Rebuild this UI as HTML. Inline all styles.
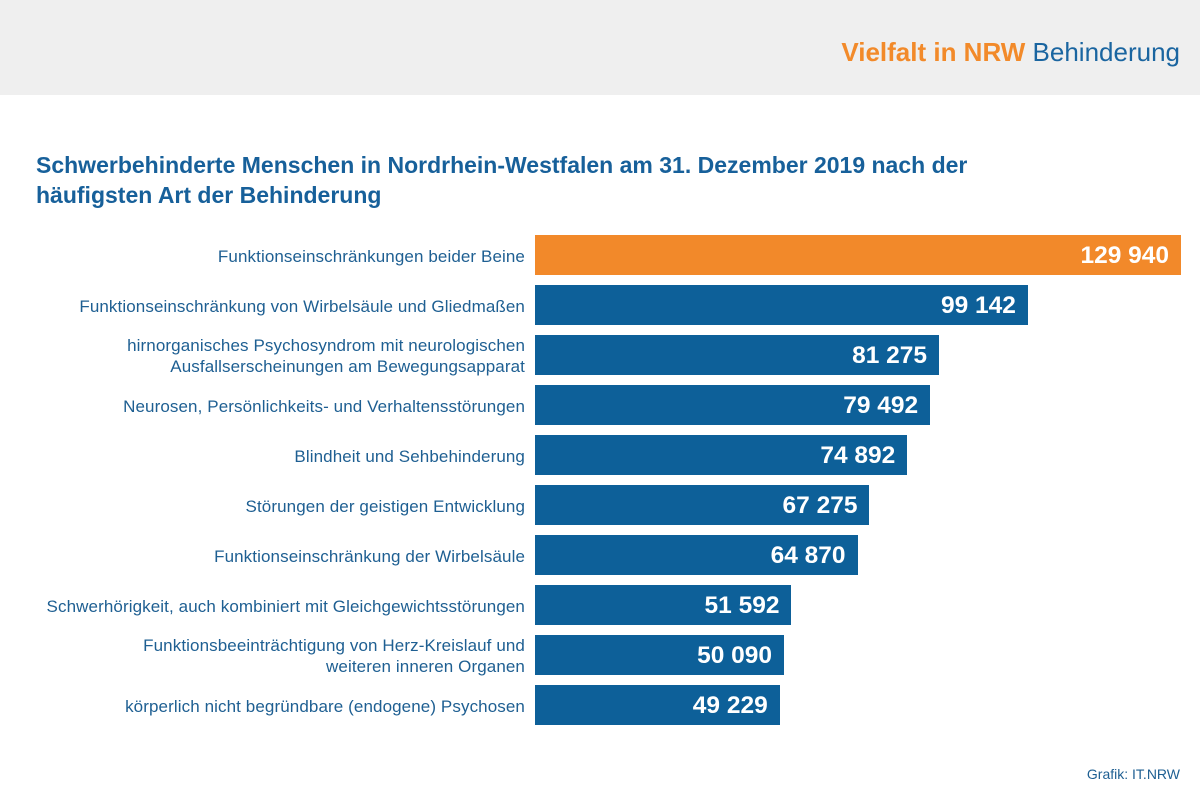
<!DOCTYPE html>
<html><head><meta charset="utf-8"><style>
body{margin:0;width:1200px;height:800px;background:#fff;font-family:"Liberation Sans",sans-serif;position:relative;overflow:hidden}
#hdr{position:absolute;left:0;top:0;width:1200px;height:95px;background:#efefef}
#brand{position:absolute;right:20px;top:37px;font-size:26px;color:#1a65a0;white-space:nowrap}
#brand b{color:#f28a2a}
#title{position:absolute;left:36px;top:150px;font-size:23px;font-weight:bold;color:#17609a;line-height:30px;white-space:nowrap}
.lab{position:absolute;right:675px;text-align:right;font-size:17px;letter-spacing:0.1px;color:#1e5f92;line-height:21px;white-space:nowrap}
.bar{position:absolute;left:535px;height:40px}
.val{position:absolute;right:12px;top:0;line-height:42px;color:#fff;font-weight:bold;font-size:24.5px}
#src{position:absolute;right:20px;top:766px;font-size:14px;color:#1e5f92}
</style></head><body>
<div id="hdr"><div id="brand"><b>Vielfalt in NRW</b> Behinderung</div></div>
<div id="title">Schwerbehinderte Menschen in Nordrhein-Westfalen am 31. Dezember 2019 nach der<br>häufigsten Art der Behinderung</div>
<div id="chart"></div>
<div id="src">Grafik: IT.NRW</div>
<script>
const categories=["Funktionseinschränkungen beider Beine","Funktionseinschränkung von Wirbelsäule und Gliedmaßen","hirnorganisches Psychosyndrom mit neurologischen<br>Ausfallserscheinungen am Bewegungsapparat","Neurosen, Persönlichkeits- und Verhaltensstörungen","Blindheit und Sehbehinderung","Störungen der geistigen Entwicklung","Funktionseinschränkung der Wirbelsäule","Schwerhörigkeit, auch kombiniert mit Gleichgewichtsstörungen","Funktionsbeeinträchtigung von Herz-Kreislauf und<br>weiteren inneren Organen","körperlich nicht begründbare (endogene) Psychosen"];
const values=[129940,99142,81275,79492,74892,67275,64870,51592,50090,49229];
const maxVal=129940;
function x(v){return v/maxVal*646;}
function y(i){return 235+i*50;}
const chart=document.getElementById('chart');
values.forEach((v,i)=>{
  const b=document.createElement('div');
  b.className='bar';
  
  
  b.style.top=y(i)+'px';b.style.width=x(v)+'px';
  b.style.background=i===0?'#f2892a':'#0d6099';
  const t=document.createElement('div');t.className='val';
  
  
  t.textContent=v.toLocaleString('en').replace(/,/g,' ');
  b.appendChild(t);chart.appendChild(b);
  const l=document.createElement('div');l.className='lab';
  
  
  l.innerHTML=categories[i];
  const lines=categories[i].split('<br>').length;
  l.style.top=(y(i)+21-lines*10.5)+'px';
  chart.appendChild(l);
});
</script>
</body></html>
